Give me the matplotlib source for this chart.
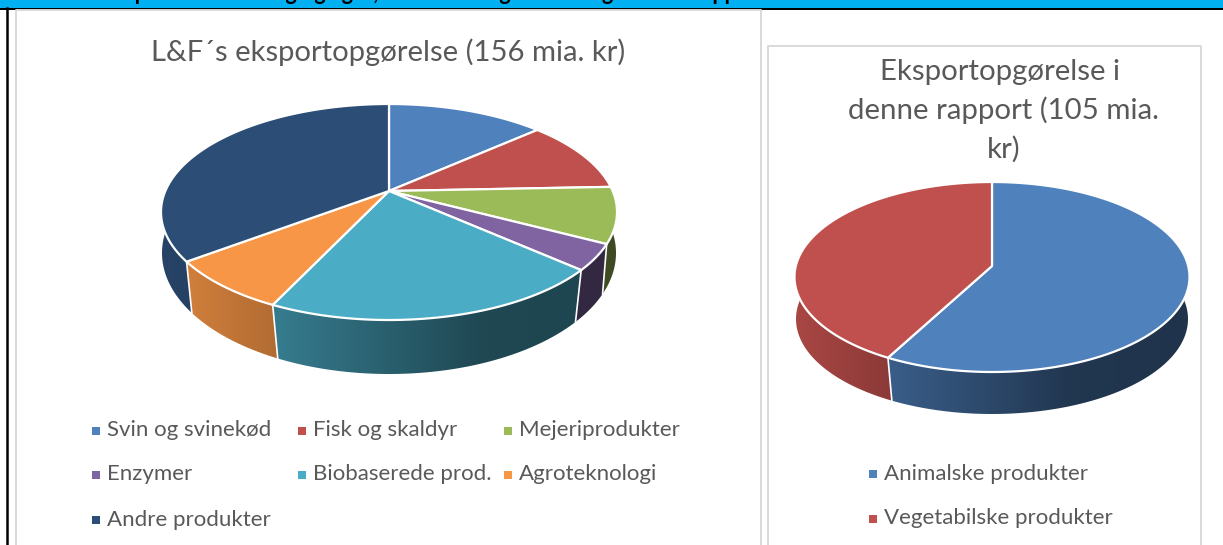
import numpy as np
import matplotlib
matplotlib.use('Agg')
import matplotlib.pyplot as plt

plt.rcParams['font.family'] = ['Lato', 'DejaVu Sans']

# mia. kr, aflaest fra figuren
venstre_navne = ['Svin og svinekød', 'Fisk og skaldyr', 'Mejeriprodukter', 'Enzymer',
                 'Biobaserede prod.', 'Agroteknologi', 'Andre produkter']
venstre_vaerdier = [21, 17, 13, 6, 32, 12, 55]
venstre_farver = ['#4F81BD', '#C0504D', '#9BBB59', '#8064A2', '#4BACC6', '#F79646', '#2C4D75']

hoejre_navne = ['Animalske produkter', 'Vegetabilske produkter']
hoejre_vaerdier = [60.8, 44.2]
hoejre_farver = ['#4F81BD', '#C0504D']

titel_venstre = 'L&F´s eksportopgørelse (156 mia. kr)'
titel_hoejre = 'Eksportopgørelse i \ndenne rapport (105 mia.\nkr)'
overskrift = 'Tabel 1: Eksport fra landbrug og agro, som den indgår i L&F og i denne rapport'

GRAA = '#595959'


def projekter(theta, cx, cy, op, ned, rx):
    # cirkel set i perspektiv: forreste del fylder mest
    k = (ned - op) / (ned + op)
    a = op * (1 + k)
    b = rx * np.sqrt(1 - k ** 2)
    w = 1 + k * np.cos(theta)
    return cx + b * np.sin(theta) / w, cy - a * np.cos(theta) / w


def tegn_kage(ax, vaerdier, farver, cx, top, bund):
    # top og bund er (cy, op, ned, rx) for de to skiver
    andele = np.array(vaerdier, dtype=float) / sum(vaerdier)
    graenser = np.concatenate([[0], np.cumsum(andele)]) * 2 * np.pi
    skygge = np.interp(np.linspace(0, 1, 256), [0, .25, .7, 1], [.88, .72, .42, .40])
    rx = top[3]
    ymin = top[0] - top[1]
    ymax = bund[0] + bund[2] + 5

    # siden: farveforloeb fra venstre mod hoejre, klippet til hvert stykke
    for i, farve in enumerate(farver):
        rgb = np.array(matplotlib.colors.to_rgb(farve))
        t = np.linspace(graenser[i], graenser[i + 1], 200)
        x, y = projekter(t, cx, *top)
        xb, yb = projekter(t, cx, *bund)
        omrids = plt.Polygon(np.c_[np.r_[x, xb[::-1]], np.r_[y, yb[::-1]]],
                             transform=ax.transData)
        billede = np.outer(skygge, rgb).reshape(1, 256, 3)
        im = ax.imshow(billede, extent=[cx - rx, cx + rx, ymax, ymin],
                       aspect='auto', interpolation='bilinear', zorder=2)
        im.set_clip_path(omrids)

    for g in graenser[:-1]:
        x, y = projekter(g, cx, *top)
        xb, yb = projekter(g, cx, *bund)
        ax.plot([x, xb], [y, yb], color='white', lw=1.2, zorder=3)

    for i, farve in enumerate(farver):
        t = np.linspace(graenser[i], graenser[i + 1], 200)
        x, y = projekter(t, cx, *top)
        ax.fill(np.r_[cx, x], np.r_[top[0], y], facecolor=farve, edgecolor='white',
                lw=1.6, joinstyle='round', zorder=4)


def tegn_forklaring(ax, navne, farver, xs, ys):
    for navn, farve, x, y in zip(navne, farver, xs, ys):
        ax.scatter([x], [y], marker='s', s=30, color=farve, lw=0, zorder=5)
        ax.text(x + 11, y, navn, fontsize=16, color=GRAA, va='center', ha='left', zorder=5)


fig = plt.figure(figsize=(12.23, 5.45), dpi=100)
ax = fig.add_axes([0, 0, 1, 1])
ax.axis('off')

# top og rammer
ax.fill_between([0, 1223], 0, 8, color='#00B0F0', lw=0, zorder=1)
ax.fill_between([0, 1223], 8, 9.5, color='black', lw=0, zorder=1)
ax.plot([7, 7], [8, 545], color='black', lw=1.8, zorder=1)
ax.plot([16, 16, 760.5, 760.5], [545, 9.8, 9.8, 545], color='#D9D9D9', lw=1.4, zorder=1)
ax.plot([768, 768, 1200.5, 1200.5], [545, 45.5, 45.5, 545], color='#D9D9D9', lw=1.4, zorder=1)

tekst = ax.text(20, 0, overskrift, fontsize=15.5, fontweight='bold', color='black',
                ha='left', va='baseline', zorder=2)
tekst.set_clip_path(plt.Rectangle((0, 0), 1223, 8, transform=ax.transData))
tekst.set_clip_on(True)

ax.text(388, 52, titel_venstre, fontsize=21.1, color=GRAA, ha='center', va='center')
ax.text(1004, 110.5, titel_hoejre, fontsize=21.2, color=GRAA, ha='center', va='center',
        linespacing=1.52)

tegn_kage(ax, venstre_vaerdier, venstre_farver, 389, (191, 87, 129, 228), (234.9, 102.9, 139.1, 227))
tegn_kage(ax, hoejre_vaerdier, hoejre_farver, 992, (266, 84, 106, 197.5), (311.4, 87.4, 102.6, 196))

tegn_forklaring(ax, venstre_navne, venstre_farver,
                [96, 302, 508, 96, 302, 508, 96], [430.5, 430.5, 430.5, 474.5, 474.5, 474.5, 519.5])
tegn_forklaring(ax, hoejre_navne, hoejre_farver, [873, 873], [473.5, 518.5])

ax.set_xlim(0, 1223)
ax.set_ylim(545, 0)
fig.savefig('out.png', dpi=100)
